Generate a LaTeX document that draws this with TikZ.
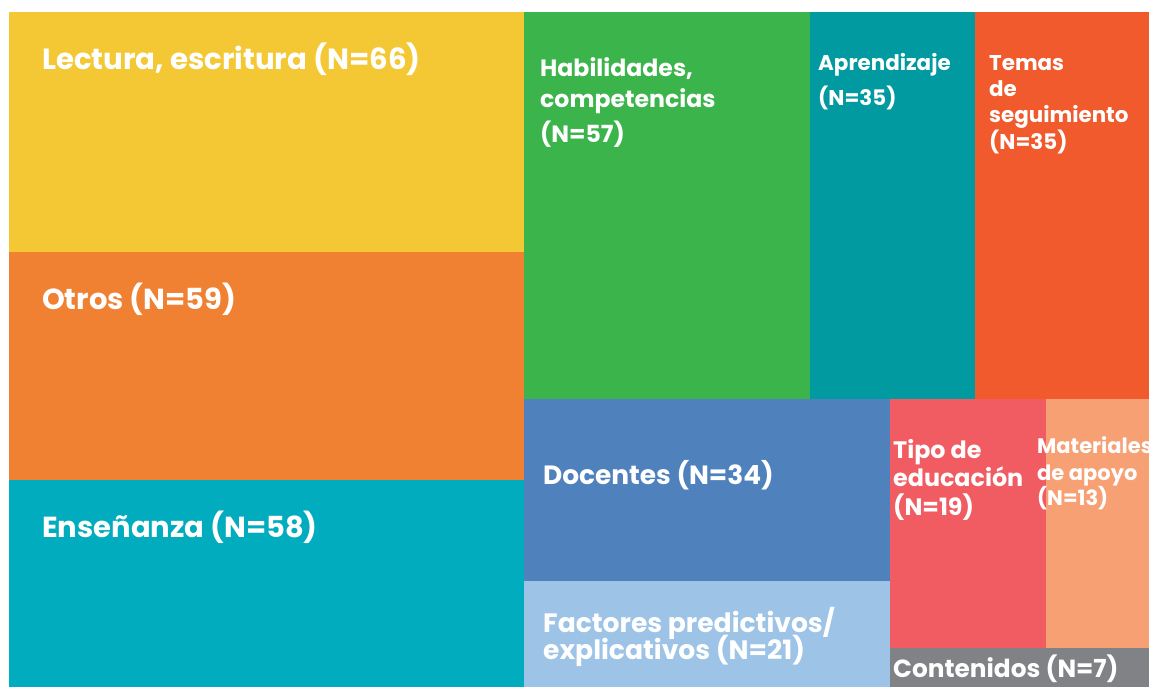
\documentclass[tikz,border=0pt]{standalone}
\usepackage{fontspec}
\setmainfont{Poppins}
\definecolor{cyellow}{HTML}{F4C834}
\definecolor{corange}{HTML}{F08133}
\definecolor{cteal}{HTML}{00ACBD}
\definecolor{cgreen}{HTML}{3BB44B}
\definecolor{cteal2}{HTML}{009AA0}
\definecolor{cred}{HTML}{F05A2C}
\definecolor{cblue}{HTML}{4F81BD}
\definecolor{clblue}{HTML}{9DC3E6}
\definecolor{cpink}{HTML}{F15C62}
\definecolor{csalmon}{HTML}{F7A074}
\definecolor{cgray}{HTML}{808285}
\tikzset{
  lbl/.style={anchor=base west, inner sep=0pt, text=white, font=\bfseries\fontsize{#1}{#1}\selectfont, align=left},
}
\begin{document}
\begin{tikzpicture}[x=1pt,y=-1pt]
\useasboundingbox (0,0) rectangle (1149,687);
\clip (0,0) rectangle (1149,687);
% rectangles
\fill[cyellow] (9,12) rectangle (524,252);
\fill[corange] (9,252) rectangle (524,480);
\fill[cteal] (9,480) rectangle (524,687);
\fill[cgreen] (524,12) rectangle (810,399);
\fill[cteal2] (810,12) rectangle (975,399);
\fill[cred] (975,12) rectangle (1149,399);
\fill[cblue] (524,399) rectangle (890,581);
\fill[clblue] (524,581) rectangle (890,687);
\fill[cpink] (890,399) rectangle (1046,648);
\fill[csalmon] (1046,399) rectangle (1149,648);
\fill[cgray] (890,648) rectangle (1149,687);
% labels
\node[lbl=29.2] (lectura) at (42,70) {Lectura, escritura (N=66)};
\node[lbl=29] (otros) at (42,309) {Otros (N=59)};
\node[lbl=29] (ense) at (42,537) {Enseñanza (N=58)};
\node[lbl=23.6] (hab1) at (540,77) {Habilidades,};
\node[lbl=23.6] (hab2) at (540,108) {competencias};
\node[lbl=23.6] (hab3) at (540,143) {(N=57)};
\node[lbl=21.4] (apr1) at (818,71) {Aprendizaje};
\node[lbl=21.4] (apr2) at (818,106) {(N=35)};
\node[lbl=21.4] (tem1) at (989,71) {Temas};
\node[lbl=21.4] (tem2) at (989,97) {de};
\node[lbl=21.4] (tem3) at (989,123) {seguimiento};
\node[lbl=21.4] (tem4) at (989,150) {(N=35)};
\node[lbl=26.4] (doc) at (543,484) {Docentes (N=34)};
\node[lbl=26.6] (fac1) at (543,632) {Factores predictivos/};
\node[lbl=26.6] (fac2) at (543,659) {explicativos (N=21)};
\node[lbl=23.8] (tip1) at (893,458) {Tipo de};
\node[lbl=23.8] (tip2) at (893,486) {educación};
\node[lbl=23.8] (tip3) at (893,515) {(N=19)};
\node[lbl=21] (mat1) at (1037,453) {Materiales};
\node[lbl=21] (mat2) at (1037,480) {de apoyo};
\node[lbl=21] (mat3) at (1037,505) {(N=13)};
\node[lbl=24.8] (con) at (893,677) {Contenidos (N=7)};
\end{tikzpicture}
\end{document}
